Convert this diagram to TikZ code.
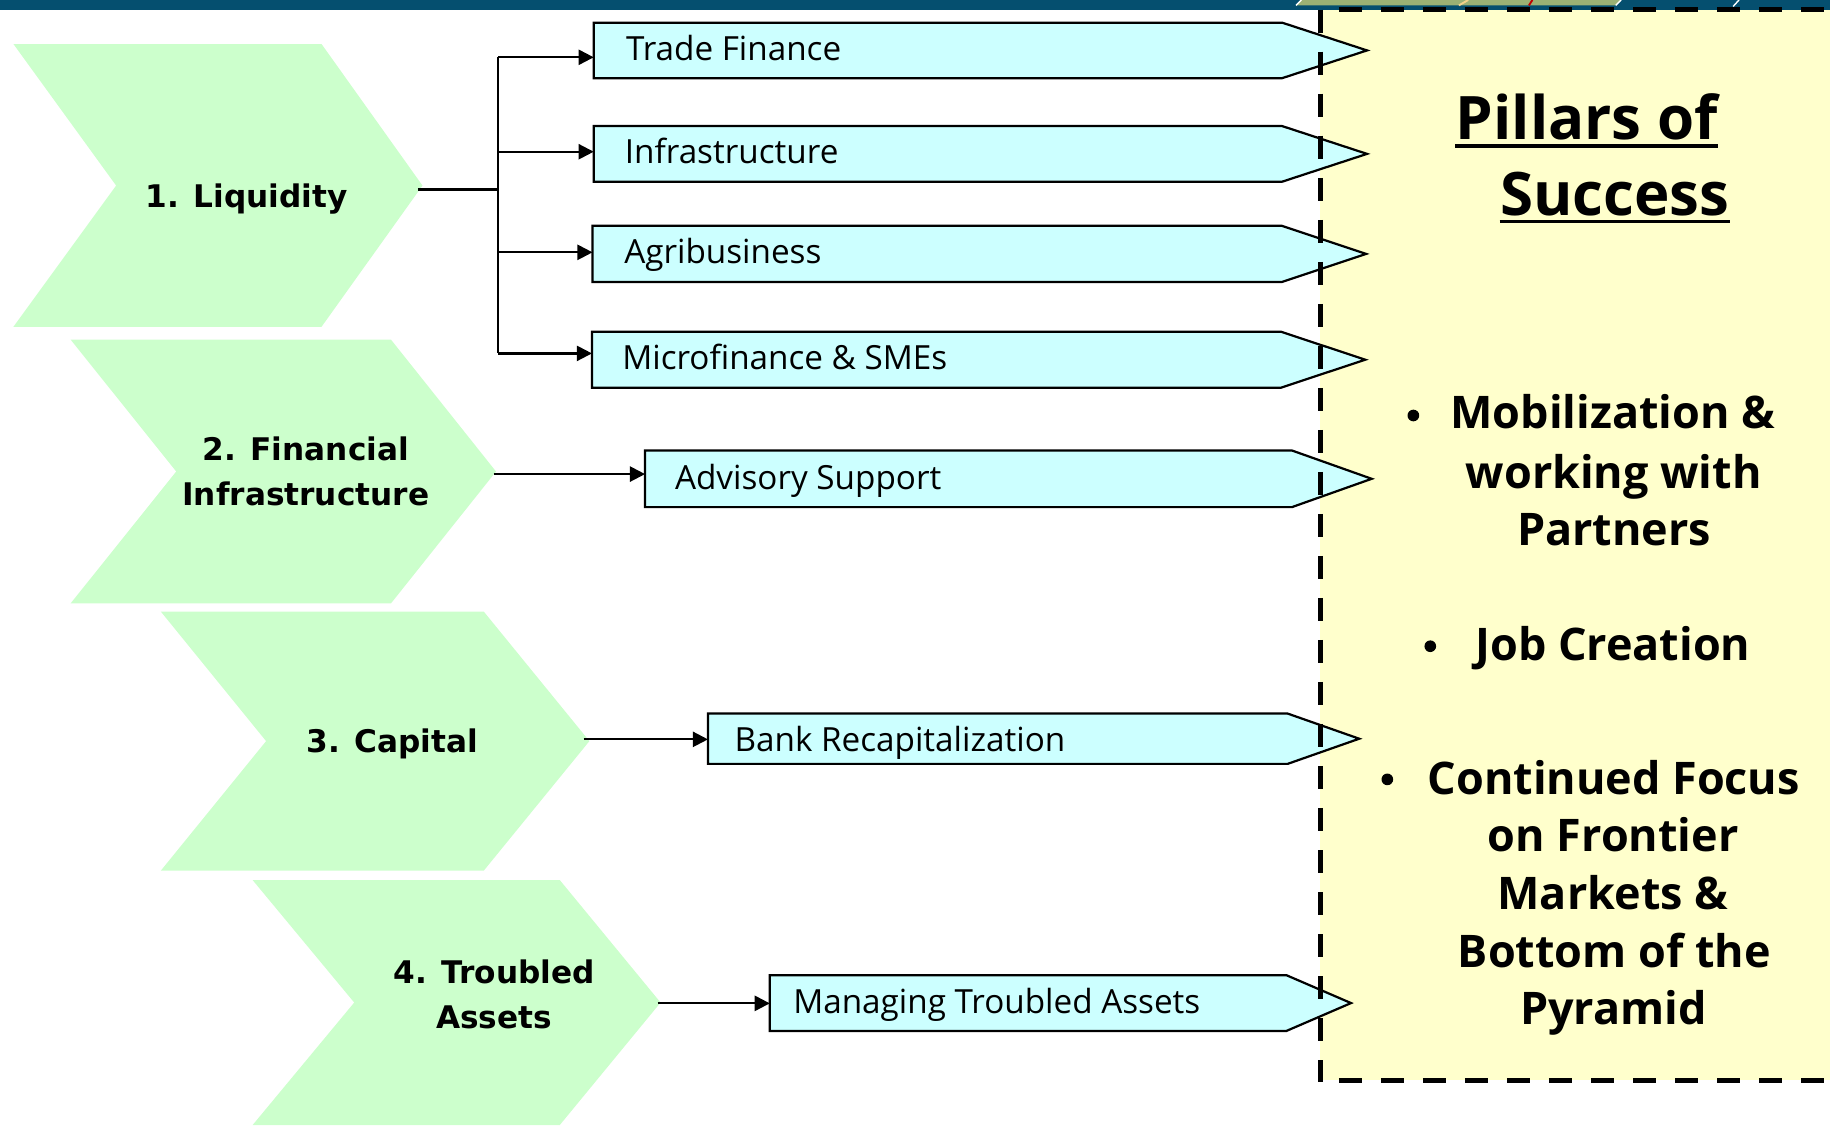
\documentclass[tikz,border=0pt]{standalone}
\usepackage{fontspec}
\setmainfont{Open Sans}
\newfontfamily\chevfont{DejaVu Sans}
\usetikzlibrary{arrows.meta}
\definecolor{barblue}{HTML}{054F6F}
\definecolor{chevgreen}{HTML}{CCFFCC}
\definecolor{boxcyan}{HTML}{CCFFFF}
\definecolor{pillaryellow}{HTML}{FFFFCC}
\definecolor{decogreen}{HTML}{9BB174}
\definecolor{decoyellow}{HTML}{F2D28A}
\definecolor{decored}{HTML}{C00000}
\newcommand\pentbox[9]{%
  \filldraw[pent] (#2,#3) -- (#5,#3) -- (#6,{(#3+#4)/2}) -- (#5,#4) -- (#2,#4) -- cycle;
  \coordinate (#1-w) at (#2,{(#3+#4)/2});
  \node[pentlbl] (#1) at (#7,#8) {#9};
}
\begin{document}
\begin{tikzpicture}[x=0.5pt,y=-0.5pt,
  chev/.style={fill=chevgreen},
  chevlbl/.style={font=\chevfont\bfseries\fontsize{13.35}{16}\selectfont, inner sep=0pt, anchor=base},
  pent/.style={fill=boxcyan, draw=black, line width=0.95pt, line join=miter},
  pentlbl/.style={font=\fontsize{14.25}{17}\selectfont, inner sep=0pt, anchor=base west},
  arr/.style={line width=0.95pt, -{Triangle[length=6.5pt,width=6.5pt]}},
  link/.style={line width=0.95pt},
  pillar/.style={font=\bfseries\fontsize{19.25}{23}\selectfont, inner sep=0pt, anchor=base},
  ptitle/.style={font=\bfseries\fontsize{25.7}{30}\selectfont, inner sep=0pt, anchor=base west},
  bul/.style={circle, fill=black, inner sep=0pt, minimum size=5pt},
  border/.style={line width=2.15pt, dash pattern=on 10pt off 8pt}
]
\useasboundingbox (0,0) rectangle (1568,964);
\clip (0,0) rectangle (1568,964);

% header bar
\fill[barblue] (0,0) rectangle (1568,8.8);
\fill[decogreen] (1115,0) -- (1389,0) -- (1384.5,4.6) -- (1110.5,4.6) -- cycle;
\draw[white, line width=0.6pt] (1115,0) -- (1110.5,4.6);
\draw[decoyellow, line width=0.8pt] (1258,0) -- (1250,4.6);
\draw[decored, line width=0.8pt] (1313,0) -- (1310,4.6);
\draw[white, line width=0.6pt] (1389,0) -- (1384.5,4.6);
\draw[white, line width=0.6pt] (1490,0) -- (1485,5.5);

% pillars panel fill
\fill[pillaryellow] (1131.2,8.3) rectangle (1580,925.5);

% chevrons
\fill[chev] (11.5,37.7) -- (275.5,37.7) -- (362,159) -- (275.5,280) -- (11.5,280) -- (99.5,159) -- cycle;
\fill[chev] (60.5,291) -- (335,291) -- (425,404) -- (335,517) -- (60.5,517) -- (151,404) -- cycle;
\fill[chev] (137.8,524) -- (414.5,524) -- (505,635) -- (414.5,746) -- (137.8,746) -- (228,635) -- cycle;
\fill[chev] (216.4,754) -- (479.6,754) -- (566,859) -- (479.6,964) -- (216.4,964) -- (303.5,859) -- cycle;

\node[chevlbl] (l1) at (211.5,177.7) {1. Liquidity};
\node[chevlbl] (l2a) at (262,394.3) {2. Financial};
\node[chevlbl] (l2b) at (262,432.9) {Infrastructure};
\node[chevlbl] (l3) at (336,645) {3. Capital};
\node[chevlbl] (l4a) at (423.5,842.8) {4. Troubled};
\node[chevlbl] (l4b) at (423.3,881.3) {Assets};

% pentagon boxes
\pentbox{tf}{508.7}{19.4}{67.0}{1098.5}{1171.3}{536}{52}{Trade Finance}
\pentbox{inf}{508.7}{108.0}{155.7}{1098.5}{1171.3}{535}{140.4}{Infrastructure}
\pentbox{agr}{507.7}{193.4}{241.7}{1098}{1170.5}{534.5}{226}{Agribusiness}
\pentbox{mic}{507.2}{284.2}{332.2}{1097.5}{1169.8}{532.8}{316.5}{Microfinance \& SMEs}
\pentbox{adv}{552.7}{386.0}{434.5}{1107}{1175.3}{578}{419}{Advisory Support}
\pentbox{bank}{606.6}{611.4}{654.5}{1103.3}{1164.6}{629}{643.5}{Bank Recapitalization}
\pentbox{mng}{659.6}{835.6}{883.3}{1102.3}{1157.6}{679.3}{868}{Managing Troubled Assets}

% connectors
\coordinate (c1out) at (358,162.3);
\coordinate (jn) at (426.7,162.3);
\coordinate (b1) at (426.7,49.1);
\coordinate (b2) at (426.7,130);
\coordinate (b3) at (426.7,216.2);
\coordinate (b4) at (426.7,302.8);
\draw[link] (c1out) -- (jn);
\draw[link] (b1) -- (b4);
\draw[arr] (b1) -- (b1 -| tf-w);
\draw[arr] (b2) -- (b2 -| inf-w);
\draw[arr] (b3) -- (b3 -| agr-w);
\draw[arr] (b4) -- (b4 -| mic-w);
\coordinate (c2out) at (423,406.2);
\draw[arr] (c2out) -- (c2out -| adv-w);
\coordinate (c3out) at (500,633.5);
\draw[arr] (c3out) -- (c3out -| bank-w);
\coordinate (c4out) at (563.4,859.7);
\draw[arr] (c4out) -- (c4out -| mng-w);

% dashed border of pillars panel
\draw[border, dash phase=10pt] (1131.2,8.3) -- (1580,8.3);
\draw[border] (1131.2,8.3) -- (1131.2,927);
\draw[border, dash phase=10pt] (1131.2,925.5) -- (1580,925.5);

% pillars text
\node[ptitle] (pt1) at (1247,119.7) {Pillars of};
\node[ptitle] (pt2) at (1285,184.3) {Success};
\draw[line width=1.5pt] ([yshift=-2.8pt]pt1.base west) -- ([yshift=-2.8pt]pt1.base east);
\draw[line width=1.5pt] ([yshift=-2.8pt]pt2.base west) -- ([yshift=-2.8pt]pt2.base east);

\node[bul] (d1) at (1211,356) {};
\node[pillar] (m1) at (1382,367.4) {Mobilization \&};
\node[pillar] (m2) at (1382.7,418.2) {working with};
\node[pillar] (m3) at (1383,467.4) {Partners};

\node[bul] (d2) at (1225.5,553.7) {};
\node[pillar] (j1) at (1382,565.7) {Job Creation};

\node[bul] (d3) at (1188.7,667.8) {};
\node[pillar] (f1) at (1382.7,680.4) {Continued Focus};
\node[pillar] (f2) at (1382.3,729.9) {on Frontier};
\node[pillar] (f3) at (1382,779.4) {Markets \&};
\node[pillar] (f4) at (1383.3,828.9) {Bottom of the};
\node[pillar] (f5) at (1382.5,877.5) {Pyramid};
\end{tikzpicture}
\end{document}
